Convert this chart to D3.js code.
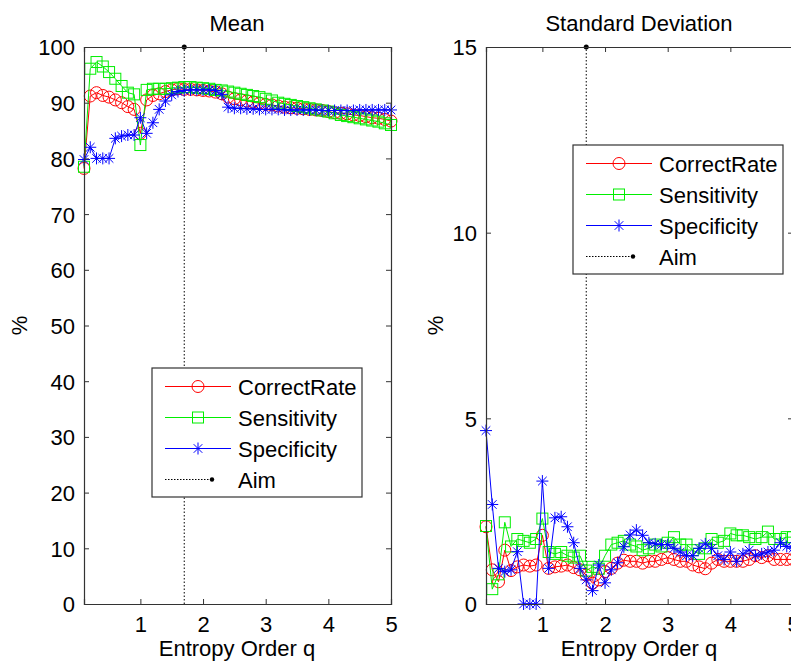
<!DOCTYPE html>
<html>
<head>
<meta charset="utf-8">
<script src="https://d3js.org/d3.v7.min.js"></script>
<style>
body { margin: 0; background: #fff; }
text { font-family: "Liberation Sans", Arial, sans-serif; font-size: 22px; fill: #000; }
</style>
</head>
<body>
<script>
// entropy order q = 0.1 : 0.1 : 5.0
var qValues = d3.range(1, 51).map(function(i){ return i / 10; });
var aimQ = 1.7;

var meanCorrect = [78.2, 91.2, 91.8, 91.3, 91.0, 90.5, 90.0, 89.3, 88.8, 84.5,
	90.5, 91.3, 91.6, 92.0, 92.3, 92.5, 92.4, 92.4, 92.3, 92.2,
	92.1, 91.9, 91.6, 91.0, 90.7, 90.5, 90.3, 90.1, 89.9, 89.7,
	89.6, 89.4, 89.2, 89.1, 89.0, 88.9, 88.8, 88.7, 88.6, 88.4,
	88.2, 88.1, 88.0, 87.8, 87.7, 87.5, 87.3, 87.2, 87.0, 86.7];
var meanSens = [78.5, 96.1, 97.3, 96.5, 95.5, 94.3, 93.0, 91.8, 91.5, 82.4,
	92.3, 92.5, 92.5, 92.5, 92.6, 92.7, 92.8, 92.8, 92.7, 92.6,
	92.5, 92.3, 92.2, 92.0, 91.8, 91.6, 91.4, 91.2, 91.0, 90.7,
	90.4, 90.0, 89.8, 89.6, 89.4, 89.2, 89.0, 88.8, 88.6, 88.4,
	88.1, 87.8, 87.6, 87.4, 87.2, 87.0, 86.8, 86.6, 86.3, 86.0];
var meanSpec = [79.8, 82.0, 80.0, 80.0, 80.0, 83.6, 84.0, 84.2, 84.2, 87.3,
	84.5, 86.4, 88.8, 90.3, 91.4, 92.0, 92.2, 92.3, 92.3, 92.3,
	92.3, 92.2, 91.5, 89.2, 89.0, 89.0, 88.9, 88.9, 88.8, 88.8,
	88.8, 88.8, 88.7, 88.7, 88.7, 88.7, 88.7, 88.7, 88.6, 88.6,
	88.6, 88.6, 88.6, 88.6, 88.7, 88.7, 88.7, 88.7, 88.7, 88.7];

var sdCorrect = [2.08, 0.92, 0.6, 1.45, 0.9, 1.0, 1.05, 1.02, 1.05, 1.85,
	0.96, 1.0, 1.02, 1.05, 0.98, 0.92, 0.78, 0.56, 0.65, 0.87,
	0.96, 1.1, 1.18, 1.15, 1.15, 1.1, 1.15, 1.15, 1.2, 1.25,
	1.2, 1.15, 1.15, 1.05, 1.0, 0.95, 1.1, 1.2, 1.15, 1.15,
	1.15, 1.15, 1.2, 1.3, 1.25, 1.3, 1.2, 1.2, 1.2, 1.2];
var sdSens = [2.1, 0.4, 0.8, 2.2, 1.55, 1.75, 1.7, 1.65, 1.75, 2.3,
	1.4, 1.35, 1.4, 1.3, 1.25, 1.3, 0.9, 1.0, 0.95, 1.3,
	1.6, 1.65, 1.7, 1.6, 1.55, 1.45, 1.5, 1.6, 1.55, 1.65,
	1.8, 1.6, 1.6, 1.45, 1.35, 1.5, 1.75, 1.65, 1.7, 1.9,
	1.85, 1.85, 1.8, 1.75, 1.8, 1.95, 1.75, 1.75, 1.8, 1.8];
var sdSpec = [4.67, 2.68, 0.96, 0.87, 0.92, 1.41, 0.0, 0.0, 0.0, 3.31,
	0.96, 2.32, 2.35, 2.08, 1.65, 0.96, 0.65, 0.36, 1.05, 0.57,
	0.92, 1.11, 1.54, 1.86, 1.99, 1.85, 1.65, 1.62, 1.6, 1.6,
	1.5, 1.4, 1.3, 1.3, 1.5, 1.62, 1.5, 1.3, 1.2, 1.4,
	1.15, 1.35, 1.45, 1.3, 1.35, 1.4, 1.45, 1.65, 1.55, 1.5];

var seriesNames = ["CorrectRate", "Sensitivity", "Specificity"];
var seriesColors = ["#ff0000", "#00ee00", "#0000ff"];
var seriesMarkers = ["circle", "square", "star"];

var meanTicks = d3.range(0, 101, 10);
var sdTicks = [0, 5, 10, 15];
var qTicks = [1, 2, 3, 4, 5];

var W = 791, H = 664;
var svg = d3.select("body").append("svg")
	.attr("width", W)
	.attr("height", H);

function drawMarker(g, type, x, y, color){
	if(type == "circle"){
		g.append("circle").attr("cx", x).attr("cy", y).attr("r", 6)
			.attr("fill", "none").attr("stroke", color).attr("stroke-width", 1);
	} else if(type == "square"){
		g.append("rect").attr("x", x - 5.5).attr("y", y - 5.5)
			.attr("width", 11).attr("height", 11)
			.attr("fill", "none").attr("stroke", color).attr("stroke-width", 1);
	} else {
		var s = 6, d = 4.3;
		var p = "M" + (x - s) + "," + y + "L" + (x + s) + "," + y +
			"M" + x + "," + (y - s) + "L" + x + "," + (y + s) +
			"M" + (x - d) + "," + (y - d) + "L" + (x + d) + "," + (y + d) +
			"M" + (x - d) + "," + (y + d) + "L" + (x + d) + "," + (y - d);
		g.append("path").attr("d", p).attr("fill", "none")
			.attr("stroke", color).attr("stroke-width", 1);
	}
}

function panel(left, title, yMax, yTicks, data, legendPos, ylabelOffset){
	var top = 47, bottom = 604, width = 307;
	var x = d3.scaleLinear().domain([0.1, 5]).range([left, left + width]);
	var y = d3.scaleLinear().domain([0, yMax]).range([bottom, top]);
	var g = svg.append("g");

	// aim line
	g.append("line")
		.attr("x1", x(aimQ)).attr("x2", x(aimQ))
		.attr("y1", y(0)).attr("y2", y(yMax))
		.attr("stroke", "#000").attr("stroke-width", 1)
		.attr("stroke-dasharray", "1.5,2");
	g.append("circle").attr("cx", x(aimQ)).attr("cy", y(yMax)).attr("r", 2.5).attr("fill", "#000");

	// series
	data.forEach(function(vals, k){
		var line = d3.line()
			.x(function(d, i){ return x(qValues[i]); })
			.y(function(d){ return y(d); });
		g.append("path").datum(vals)
			.attr("d", line)
			.attr("fill", "none")
			.attr("stroke", seriesColors[k])
			.attr("stroke-width", 1);
		var mg = g.append("g");
		vals.forEach(function(d, i){
			drawMarker(mg, seriesMarkers[k], x(qValues[i]), y(d), seriesColors[k]);
		});
	});

	// axes box
	var axisColor = "#333";
	var bottomAxis = d3.axisBottom(x).tickValues(qTicks).tickSize(-5).tickPadding(8).tickFormat(d3.format("d"));
	var topAxis = d3.axisTop(x).tickValues(qTicks).tickSize(-5).tickFormat("");
	var leftAxis = d3.axisLeft(y).tickValues(yTicks).tickSize(-5).tickPadding(9);
	var rightAxis = d3.axisRight(y).tickValues(yTicks).tickSize(-5).tickFormat("");

	var ab = g.append("g").attr("transform", "translate(0," + bottom + ")").call(bottomAxis);
	var at = g.append("g").attr("transform", "translate(0," + top + ")").call(topAxis);
	var al = g.append("g").attr("transform", "translate(" + left + ",0)").call(leftAxis);
	var ar = g.append("g").attr("transform", "translate(" + (left + width) + ",0)").call(rightAxis);
	[ab, at, al, ar].forEach(function(a){
		a.selectAll("path").attr("stroke", axisColor).attr("stroke-width", 1.2);
		a.selectAll("line").attr("stroke", axisColor).attr("stroke-width", 1);
		a.selectAll("text")
			.style("font-family", "Liberation Sans, Arial, sans-serif")
			.style("font-size", "22px")
			.attr("fill", "#000");
	});
	ab.selectAll("text").attr("dy", "0.9em");
	al.selectAll("text").attr("dy", "0.36em");

	// titles
	g.append("text")
		.attr("x", left + width / 2 - 0.5)
		.attr("y", 31)
		.attr("text-anchor", "middle")
		.text(title);
	g.append("text")
		.attr("x", left + width / 2 - 0.5)
		.attr("y", 656)
		.attr("text-anchor", "middle")
		.text("Entropy Order q");
	g.append("text")
		.attr("transform", "translate(" + (left - ylabelOffset) + "," + ((top + bottom) / 2) + ") rotate(-90)")
		.attr("text-anchor", "middle")
		.text("%");

	// legend
	var lx = legendPos[0], ly = legendPos[1];
	var lg = g.append("g");
	lg.append("rect")
		.attr("x", lx).attr("y", ly)
		.attr("width", 210).attr("height", 129)
		.attr("fill", "#fff").attr("stroke", axisColor).attr("stroke-width", 1.2);
	seriesNames.forEach(function(name, k){
		var ry = ly + 18.5 + k * 31;
		lg.append("line")
			.attr("x1", lx + 13).attr("x2", lx + 79)
			.attr("y1", ry).attr("y2", ry)
			.attr("stroke", seriesColors[k]).attr("stroke-width", 1);
		drawMarker(lg, seriesMarkers[k], lx + 46, ry, seriesColors[k]);
		lg.append("text")
			.attr("x", lx + 86)
			.attr("y", ry + 8)
			.text(name);
	});
	var ay = ly + 18.5 + 3 * 31;
	lg.append("line")
		.attr("x1", lx + 13).attr("x2", lx + 60)
		.attr("y1", ay).attr("y2", ay)
		.attr("stroke", "#000").attr("stroke-width", 1)
		.attr("stroke-dasharray", "1.5,1.5");
	lg.append("circle").attr("cx", lx + 60).attr("cy", ay).attr("r", 2.2).attr("fill", "#000");
	lg.append("text")
		.attr("x", lx + 86)
		.attr("y", ay + 8)
		.text("Aim");
}

panel(84, "Mean", 100, meanTicks, [meanCorrect, meanSens, meanSpec], [152, 368], 57);
panel(486, "Standard Deviation", 15, sdTicks, [sdCorrect, sdSens, sdSpec], [573, 145], 43);
</script>
</body>
</html>
